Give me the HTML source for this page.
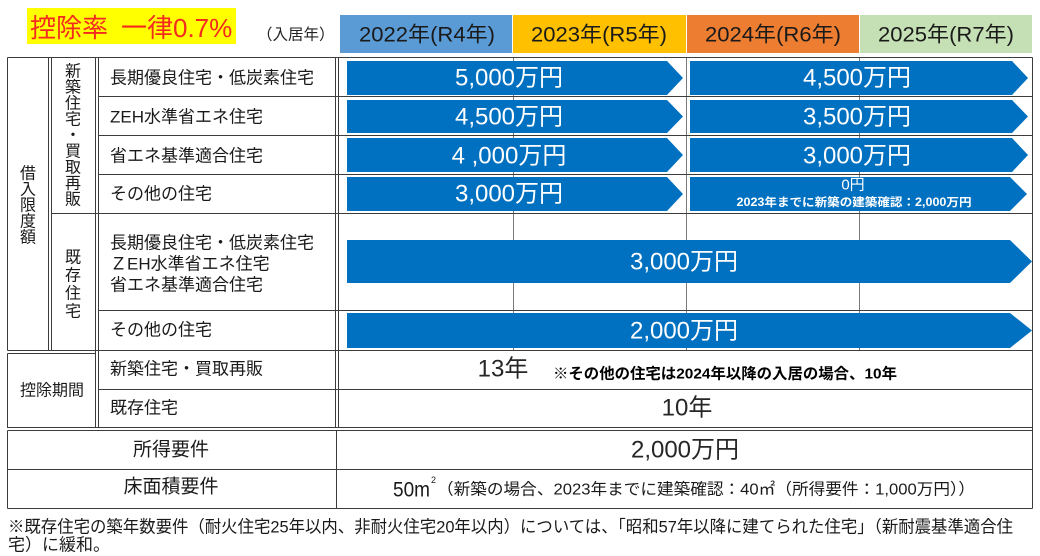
<!DOCTYPE html>
<html><head><meta charset="utf-8">
<style>
html,body{margin:0;padding:0;background:#fff;}
svg{display:block;font-family:"Liberation Sans","Noto Sans CJK JP",sans-serif;}
</style></head><body>
<svg width="1040" height="556" viewBox="0 0 1040 556" xmlns="http://www.w3.org/2000/svg">
<rect width="1040" height="556" fill="#fff"/>
<!-- title -->
<rect x="27" y="8" width="209" height="36" fill="#FFFF00"/>
<text x="30" y="28" font-size="26" fill="#F42A1E" dominant-baseline="central">控除率</text>
<text x="121" y="28" font-size="26" fill="#F42A1E" dominant-baseline="central">一律0.7%</text>
<text x="257" y="35" font-size="15.5" fill="#222" dominant-baseline="central">（入居年）</text>

<!-- headers -->
<rect x="340" y="15" width="172" height="38" fill="#5B9BD5"/>
<rect x="513" y="15" width="173" height="38" fill="#FFC000"/>
<rect x="687" y="15" width="172" height="38" fill="#ED7D31"/>
<rect x="860" y="15" width="172" height="38" fill="#C5E0B4"/>
<g font-size="21" fill="#1a1a1a" text-anchor="middle" dominant-baseline="central">
<text x="427" y="35" textLength="136" lengthAdjust="spacingAndGlyphs">2022年(R4年)</text>
<text x="599" y="35" textLength="136" lengthAdjust="spacingAndGlyphs">2023年(R5年)</text>
<text x="773" y="35" textLength="136" lengthAdjust="spacingAndGlyphs">2024年(R6年)</text>
<text x="946" y="35" textLength="136" lengthAdjust="spacingAndGlyphs">2025年(R7年)</text>
</g>

<!-- grid -->
<g stroke="#7a7a7a" stroke-width="1" fill="none">
<path d="M513.5 57.5V350.5M686.5 57.5V350.5M859.5 57.5V350.5"/>
</g>
<g stroke="#3c3c3c" stroke-width="1" fill="none">
<path d="M7.5 57.5H1032.5M7.5 57.5V350.5M1032.5 57.5V508.5"/>
<path d="M48.5 57.5V350.5M51.5 57.5V350.5"/>
<path d="M95.5 57.5V428M98.5 57.5V428"/>
<path d="M335.5 57.5V428M338.5 57.5V428"/>
<path d="M98.5 96.5H1032.5M98.5 135.5H1032.5M98.5 174.5H1032.5M51.5 213.5H1032.5M98.5 310.5H1032.5M7.5 350.5H1032.5"/>
<path d="M7.5 353.5H96M7.5 353.5V428M98.5 389.5H1032.5"/>
<path d="M7.5 427.5H1032.5M7.5 430.5H1032.5"/>
<path d="M7.5 430.5V508.5M336.5 430.5V508.5M7.5 469.5H1032.5M7.5 508.5H1032.5"/>
</g>

<!-- arrows -->
<g fill="#0070C0">
<polygon points="347,61 667,61 683,78 667,95 347,95"/>
<polygon points="690,61 1012,61 1028,78 1012,95 690,95"/>
<polygon points="347,100 667,100 683,116.5 667,133 347,133"/>
<polygon points="690,100 1012,100 1028,116.5 1012,133 690,133"/>
<polygon points="347,138 667,138 683,155 667,172 347,172"/>
<polygon points="690,138 1012,138 1028,155 1012,172 690,172"/>
<polygon points="347,177 667,177 683,194 667,211 347,211"/>
<polygon points="690,177 1010,177 1027,194 1010,211 690,211"/>
<polygon points="347,240 1010,240 1032,261.5 1010,283 347,283"/>
<polygon points="347,313 1010,313 1032,330.5 1010,348 347,348"/>
</g>
<g font-size="24" fill="#fff" text-anchor="middle" dominant-baseline="central">
<text x="509" y="78">5,000万円</text>
<text x="857" y="78">4,500万円</text>
<text x="509" y="117">4,500万円</text>
<text x="857" y="117">3,500万円</text>
<text x="509" y="156">4 ,000万円</text>
<text x="857" y="156">3,000万円</text>
<text x="509" y="194">3,000万円</text>
<text x="684" y="262">3,000万円</text>
<text x="684" y="331">2,000万円</text>
</g>
<text x="853" y="185" font-size="15" fill="#fff" text-anchor="middle" dominant-baseline="central">0円</text>
<text x="854" y="203" font-size="11.5" font-weight="bold" fill="#fff" text-anchor="middle" dominant-baseline="central" textLength="235" lengthAdjust="spacingAndGlyphs">2023年までに新築の建築確認：2,000万円</text>

<!-- row labels -->
<g font-size="17" fill="#1a1a1a" dominant-baseline="central">
<text x="110" y="78">長期優良住宅・低炭素住宅</text>
<text x="110" y="117">ZEH水準省エネ住宅</text>
<text x="110" y="156">省エネ基準適合住宅</text>
<text x="110" y="194">その他の住宅</text>
<text x="110" y="243">長期優良住宅・低炭素住宅</text>
<text x="110" y="264">ＺEH水準省エネ住宅</text>
<text x="110" y="285">省エネ基準適合住宅</text>
<text x="110" y="330">その他の住宅</text>
<text x="110" y="369">新築住宅・買取再販</text>
<text x="110" y="408">既存住宅</text>
</g>

<!-- vertical labels -->
<g font-size="16" fill="#1a1a1a" text-anchor="middle" dominant-baseline="central">
<text x="28" y="174">借</text>
<text x="28" y="190">入</text>
<text x="28" y="206">限</text>
<text x="28" y="222">度</text>
<text x="28" y="238">額</text>
<text x="73" y="72">新</text>
<text x="73" y="88">築</text>
<text x="73" y="104">住</text>
<text x="73" y="120">宅</text>
<text x="73" y="136">・</text>
<text x="73" y="152">買</text>
<text x="73" y="168">取</text>
<text x="73" y="184">再</text>
<text x="73" y="200">販</text>
<text x="73" y="258">既</text>
<text x="73" y="276">存</text>
<text x="73" y="294">住</text>
<text x="73" y="312">宅</text>
<text x="52" y="391">控除期間</text>
</g>

<!-- control period -->
<text x="503" y="369" font-size="24" fill="#262626" text-anchor="middle" dominant-baseline="central">13年</text>
<text x="553" y="374" font-size="15" font-weight="bold" fill="#000" dominant-baseline="central" textLength="344" lengthAdjust="spacingAndGlyphs">※その他の住宅は2024年以降の入居の場合、10年</text>
<text x="687" y="408" font-size="24" fill="#262626" text-anchor="middle" dominant-baseline="central">10年</text>

<!-- lower box -->
<g font-size="19" fill="#1a1a1a" text-anchor="middle" dominant-baseline="central">
<text x="171" y="450">所得要件</text>
<text x="171" y="487">床面積要件</text>
</g>
<text x="685" y="450" font-size="24" fill="#262626" text-anchor="middle" dominant-baseline="central">2,000万円</text>
<text x="393" y="490" font-size="21" fill="#1a1a1a" dominant-baseline="central" textLength="37" lengthAdjust="spacingAndGlyphs">50m</text>
<text x="431" y="480" font-size="9" fill="#1a1a1a" dominant-baseline="central">2</text>
<text x="437" y="490" font-size="16" fill="#1a1a1a" dominant-baseline="central" textLength="538" lengthAdjust="spacingAndGlyphs">（新築の場合、2023年までに建築確認：40㎡（所得要件：1,000万円））</text>

<!-- footnote -->
<text x="8" y="527" font-size="17" fill="#1a1a1a" dominant-baseline="central" textLength="1005" lengthAdjust="spacingAndGlyphs">※既存住宅の築年数要件（耐火住宅25年以内、非耐火住宅20年以内）については、「昭和57年以降に建てられた住宅」（新耐震基準適合住</text>
<text x="8" y="545" font-size="17" fill="#1a1a1a" dominant-baseline="central">宅）に緩和。</text>
</svg>
</body></html>
